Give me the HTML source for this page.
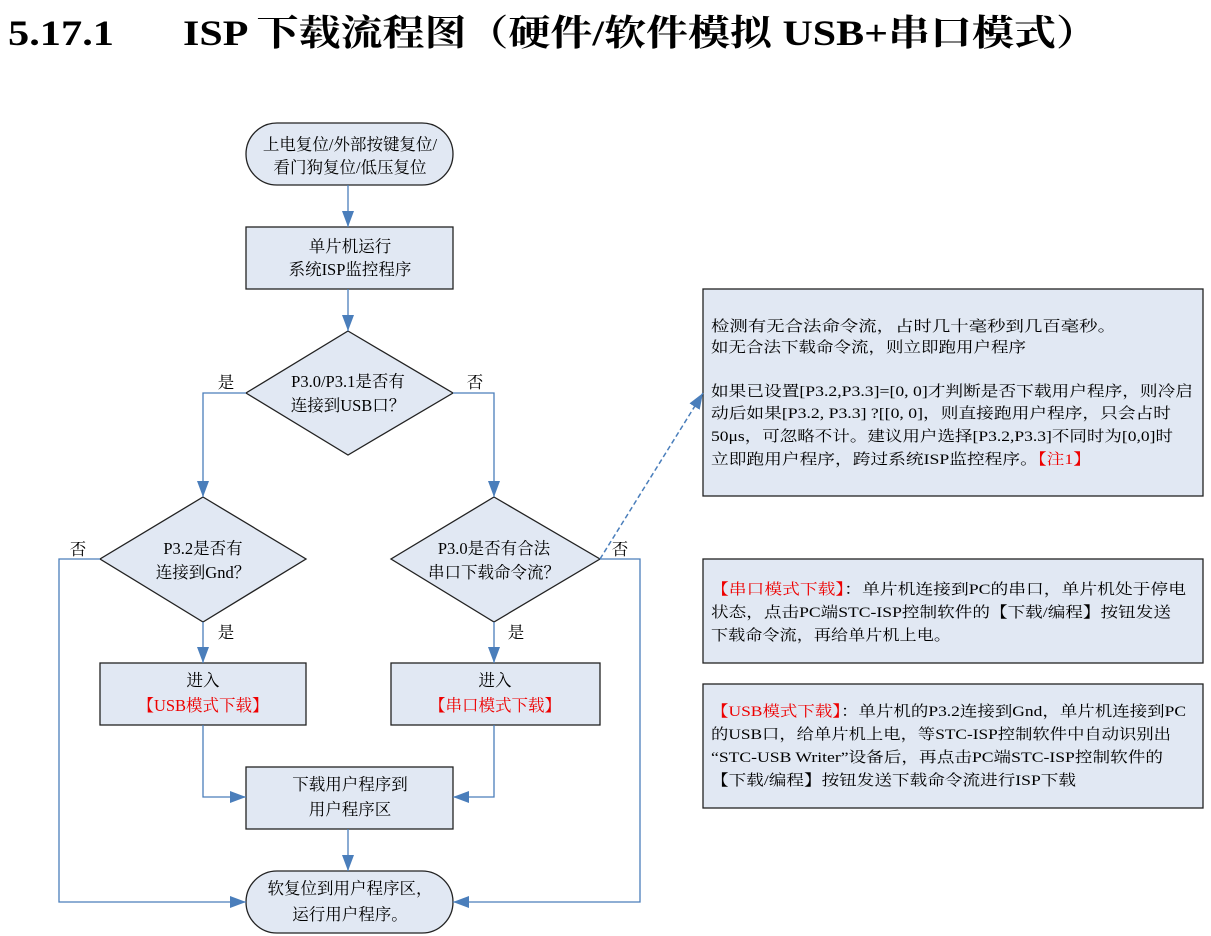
<!DOCTYPE html>
<html><head><meta charset="utf-8"><style>
html,body{margin:0;padding:0;background:#fff;}
svg{display:block;}
text{font-family:"Liberation Serif","Noto Serif CJK SC","Noto Sans CJK SC",serif;fill:#000;}
.t{font-size:16.5px;text-anchor:middle;}
.n{font-size:15px;}
.r{fill:#e00;}
</style></head><body>
<svg width="1211" height="936" viewBox="0 0 1211 936" xmlns="http://www.w3.org/2000/svg">
<defs>
<marker id="b" markerWidth="18" markerHeight="18" refX="16" refY="6" orient="auto" markerUnits="userSpaceOnUse">
<path d="M0,0 L16,6 L0,12 z" fill="#4a7ebb"/></marker>
</defs>
<text x="8" y="45" style="font-size:36px;font-weight:bold" textLength="106" lengthAdjust="spacingAndGlyphs">5.17.1</text>
<text x="183" y="45" style="font-size:36px;font-weight:bold" textLength="915" lengthAdjust="spacingAndGlyphs">ISP 下载流程图（硬件/软件模拟 USB+串口模式）</text>

<g fill="#e1e8f3" stroke="#222" stroke-width="1.3">
<rect x="246" y="123" width="207" height="62" rx="31"/>
<rect x="246" y="227" width="207" height="62"/>
<polygon points="348,331 453,393 348,455 246,393"/>
<polygon points="203,497 306,559 203,622 100,559"/>
<polygon points="494,497 600,559 494,622 391,559"/>
<rect x="100" y="663" width="206" height="62"/>
<rect x="391" y="663" width="209" height="62"/>
<rect x="246" y="767" width="207" height="62"/>
<rect x="246" y="871" width="207" height="62" rx="31"/>
<rect x="703" y="289" width="500" height="207"/>
<rect x="703" y="559" width="500" height="104"/>
<rect x="703" y="684" width="500" height="124"/>
</g>

<g fill="none" stroke="#4a7ebb" stroke-width="1.3">
<path d="M348,185 V227" marker-end="url(#b)"/>
<path d="M348,289 V331" marker-end="url(#b)"/>
<path d="M246,393 H203 V497" marker-end="url(#b)"/>
<path d="M453,393 H494 V497" marker-end="url(#b)"/>
<path d="M203,622 V663" marker-end="url(#b)"/>
<path d="M494,622 V663" marker-end="url(#b)"/>
<path d="M100,559 H59 V902 H246" marker-end="url(#b)"/>
<path d="M600,559 H640 V902 H453" marker-end="url(#b)"/>
<path d="M203,725 V797 H246" marker-end="url(#b)"/>
<path d="M494,725 V797 H453" marker-end="url(#b)"/>
<path d="M348,829 V871" marker-end="url(#b)"/>
<path d="M600,559 L703,393" stroke-dasharray="5,3" stroke-width="1.5" marker-end="url(#b)"/>
</g>

<text class="t" x="350" y="150">上电复位/外部按键复位/</text>
<text class="t" x="350" y="173">看门狗复位/低压复位</text>
<text class="t" x="350" y="252">单片机运行</text>
<text class="t" x="350" y="275">系统ISP监控程序</text>
<text class="t" x="348" y="387">P3.0/P3.1是否有</text>
<text class="t" x="348" y="411">连接到USB口？</text>
<text class="t" x="226" y="388">是</text>
<text class="t" x="475" y="388">否</text>
<text class="t" x="203" y="554">P3.2是否有</text>
<text class="t" x="203" y="578">连接到Gnd？</text>
<text class="t" x="494" y="554">P3.0是否有合法</text>
<text class="t" x="494" y="578">串口下载命令流？</text>
<text class="t" x="78" y="555">否</text>
<text class="t" x="620" y="555">否</text>
<text class="t" x="226" y="638">是</text>
<text class="t" x="516" y="638">是</text>
<text class="t" x="203" y="686">进入</text>
<text class="t r" x="203" y="711">【USB模式下载】</text>
<text class="t" x="495" y="686">进入</text>
<text class="t r" x="495" y="711">【串口模式下载】</text>
<text class="t" x="350" y="790">下载用户程序到</text>
<text class="t" x="350" y="815">用户程序区</text>
<text class="t" x="350" y="894">软复位到用户程序区，</text>
<text class="t" x="350" y="920">运行用户程序。</text>

<text class="n" x="711" y="331" textLength="405" lengthAdjust="spacingAndGlyphs">检测有无合法命令流，占时几十毫秒到几百毫秒。</text>
<text class="n" x="711" y="352" textLength="315" lengthAdjust="spacingAndGlyphs">如无合法下载命令流，则立即跑用户程序</text>
<text class="n" x="711" y="396" textLength="482" lengthAdjust="spacingAndGlyphs">如果已设置[P3.2,P3.3]=[0, 0]才判断是否下载用户程序，则冷启</text>
<text class="n" x="711" y="418" textLength="460" lengthAdjust="spacingAndGlyphs">动后如果[P3.2, P3.3] ?[[0, 0]，则直接跑用户程序，只会占时</text>
<text class="n" x="711" y="441" textLength="462" lengthAdjust="spacingAndGlyphs">50μs，可忽略不计。建议用户选择[P3.2,P3.3]不同时为[0,0]时</text>
<text class="n" x="711" y="464" textLength="380" lengthAdjust="spacingAndGlyphs">立即跑用户程序，跨过系统ISP监控程序。<tspan class="r">【注1】</tspan></text>

<text class="n" x="711" y="594" textLength="475" lengthAdjust="spacingAndGlyphs"><tspan class="r">【串口模式下载】</tspan>：单片机连接到PC的串口，单片机处于停电</text>
<text class="n" x="711" y="617" textLength="460" lengthAdjust="spacingAndGlyphs">状态，点击PC端STC-ISP控制软件的【下载/编程】按钮发送</text>
<text class="n" x="711" y="640" textLength="240" lengthAdjust="spacingAndGlyphs">下载命令流，再给单片机上电。</text>

<text class="n" x="711" y="716" textLength="475" lengthAdjust="spacingAndGlyphs"><tspan class="r">【USB模式下载】</tspan>：单片机的P3.2连接到Gnd，单片机连接到PC</text>
<text class="n" x="711" y="739" textLength="460" lengthAdjust="spacingAndGlyphs">的USB口，给单片机上电，等STC-ISP控制软件中自动识别出</text>
<text class="n" x="711" y="762" textLength="452" lengthAdjust="spacingAndGlyphs">“STC-USB Writer”设备后，再点击PC端STC-ISP控制软件的</text>
<text class="n" x="711" y="785" textLength="365" lengthAdjust="spacingAndGlyphs">【下载/编程】按钮发送下载命令流进行ISP下载</text>
</svg>
</body></html>
